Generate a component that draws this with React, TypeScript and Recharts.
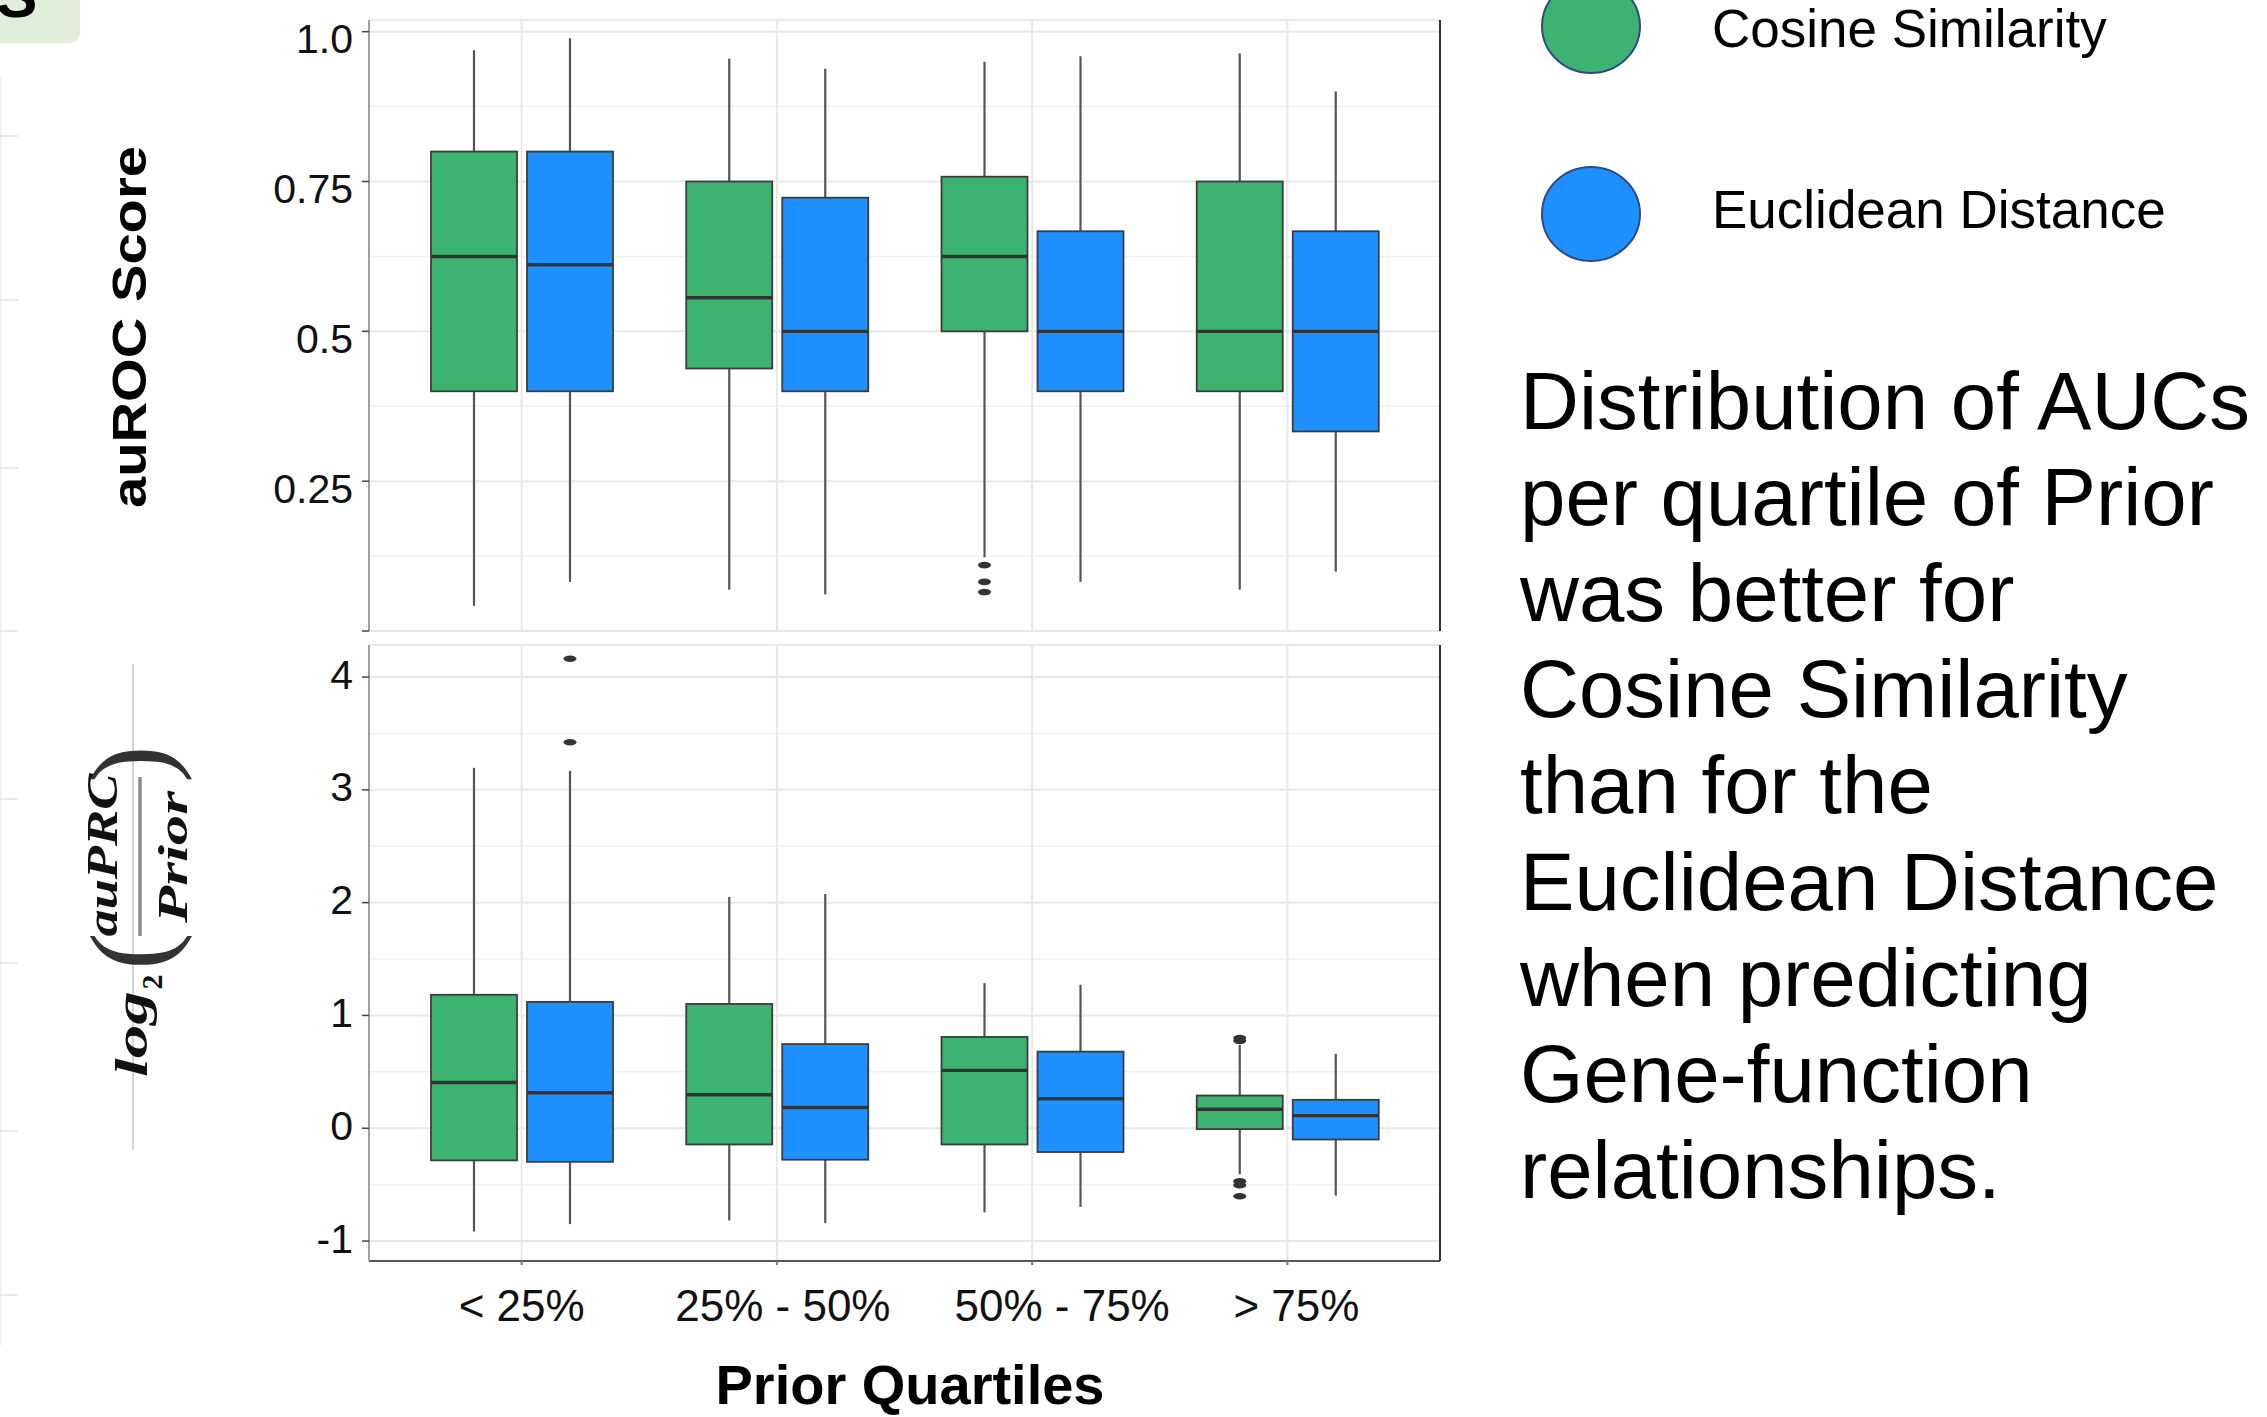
import React from 'react';
import { ComposedChart, Bar, XAxis, YAxis, CartesianGrid } from 'recharts';

const SANS = '"Liberation Sans", Arial, Helvetica, sans-serif';
const SERIF = '"Liberation Serif", "DejaVu Serif", serif';
const GREEN = '#3CB371';
const BLUE = '#1E90FF';

const categories = ['< 25%', '25% - 50%', '50% - 75%', '> 75%'];

// Top panel: auROC Score
const rocTicks = [0, 0.25, 0.5, 0.75, 1.0];
const rocTickLabels = ['', '0.25', '0.5', '0.75', '1.0'];
const rocMinor = [0.125, 0.375, 0.625, 0.875];
const rocDomain = [0, 1.0195];

const rocCosLow = [0.042, 0.069, 0.123, 0.069];
const rocCosQ1 = [0.4, 0.438, 0.5, 0.4];
const rocCosMed = [0.625, 0.556, 0.625, 0.5];
const rocCosQ3 = [0.8, 0.75, 0.758, 0.75];
const rocCosHigh = [0.969, 0.955, 0.95, 0.964];
const rocCosOut = [[], [], [0.11, 0.082, 0.065], []];

const rocEucLow = [0.082, 0.061, 0.082, 0.099];
const rocEucQ1 = [0.4, 0.4, 0.4, 0.333];
const rocEucMed = [0.611, 0.5, 0.5, 0.5];
const rocEucQ3 = [0.8, 0.723, 0.667, 0.667];
const rocEucHigh = [0.989, 0.938, 0.959, 0.9];
const rocEucOut = [[], [], [], []];

// Bottom panel: log2(auPRC / Prior)
const prcTicks = [-1, 0, 1, 2, 3, 4];
const prcTickLabels = ['-1', '0', '1', '2', '3', '4'];
const prcMinor = [-0.5, 0.5, 1.5, 2.5, 3.5];
const prcDomain = [-1.177, 4.284];

const prcCosLow = [-0.915, -0.818, -0.746, -0.408];
const prcCosQ1 = [-0.285, -0.144, -0.144, -0.008];
const prcCosMed = [0.405, 0.297, 0.513, 0.168];
const prcCosQ3 = [1.183, 1.102, 0.809, 0.29];
const prcCosHigh = [3.195, 2.05, 1.286, 0.74];
const prcCosOut = [[], [], [], [0.8, 0.775, -0.47, -0.505, -0.603]];

const prcEucLow = [-0.85, -0.841, -0.697, -0.597];
const prcEucQ1 = [-0.298, -0.279, -0.211, -0.1];
const prcEucMed = [0.315, 0.184, 0.261, 0.112];
const prcEucQ3 = [1.12, 0.746, 0.679, 0.252];
const prcEucHigh = [3.168, 2.077, 1.272, 0.66];
const prcEucOut = [[4.162, 3.422], [], [], []];

const legendNames = ['Cosine Similarity', 'Euclidean Distance'];
const legendColors = [GREEN, BLUE];

const paragraphLines = [
  'Distribution of AUCs',
  'per quartile of Prior',
  'was better for',
  'Cosine Similarity',
  'than for the',
  'Euclidean Distance',
  'when predicting',
  'Gene-function',
  'relationships.',
];

const xTitle = 'Prior Quartiles';
const topYTitle = 'auROC Score';

// layout: small horizontal nudges of the category labels seen in the figure (px)
const xTickLabelNudge = [0, 6, 30, 9];

type Stats = { low: number; q1: number; med: number; q3: number; high: number; out: number[] };

function stats(lo: number[], q1: number[], med: number[], q3: number[], hi: number[], out: number[][], i: number): Stats {
  return { low: lo[i], q1: q1[i], med: med[i], q3: q3[i], high: hi[i], out: out[i] };
}

const rocRows = categories.map((cat, i) => ({
  cat,
  cosBox: [rocCosQ1[i], rocCosQ3[i]],
  eucBox: [rocEucQ1[i], rocEucQ3[i]],
  cos: stats(rocCosLow, rocCosQ1, rocCosMed, rocCosQ3, rocCosHigh, rocCosOut, i),
  euc: stats(rocEucLow, rocEucQ1, rocEucMed, rocEucQ3, rocEucHigh, rocEucOut, i),
}));

const prcRows = categories.map((cat, i) => ({
  cat,
  cosBox: [prcCosQ1[i], prcCosQ3[i]],
  eucBox: [prcEucQ1[i], prcEucQ3[i]],
  cos: stats(prcCosLow, prcCosQ1, prcCosMed, prcCosQ3, prcCosHigh, prcCosOut, i),
  euc: stats(prcEucLow, prcEucQ1, prcEucMed, prcEucQ3, prcEucHigh, prcEucOut, i),
}));

const boxShape = (key: 'cos' | 'euc', fill: string) => (props: any) => {
  const { x, y, width, height, payload } = props;
  const s: Stats = payload[key];
  const k = height / (s.q3 - s.q1);
  const py = (v: number) => y + (s.q3 - v) * k;
  const cx = x + width / 2;
  return (
    <g>
      <line x1={cx} x2={cx} y1={py(s.high)} y2={py(s.q3)} stroke="#555" strokeWidth={2.2} />
      <line x1={cx} x2={cx} y1={py(s.q1)} y2={py(s.low)} stroke="#555" strokeWidth={2.2} />
      <rect x={x} y={y} width={width} height={height} fill={fill} stroke="#3c3c3c" strokeWidth={1.8} />
      <line x1={x} x2={x + width} y1={py(s.med)} y2={py(s.med)} stroke="#333" strokeWidth={3.4} />
      {s.out.map((v, j) => (
        <ellipse key={j} cx={cx} cy={py(v)} rx={6.5} ry={3.3} fill="#333" />
      ))}
    </g>
  );
};

const makeYTick = (ticks: number[], labels: string[], shift: number) => (props: any) => {
  const { x, y, payload } = props;
  const idx = ticks.indexOf(payload.value);
  const label = idx >= 0 ? labels[idx] : '';
  return (
    <text x={x} y={y + shift} dy="0.355em" textAnchor="end" fontSize={41} fontFamily={SANS} fill="#111">
      {label}
    </text>
  );
};

const XTick = (props: any) => {
  const { x, y, payload } = props;
  const idx = categories.indexOf(payload.value);
  const nudge = idx >= 0 ? xTickLabelNudge[idx] : 0;
  return (
    <text x={x + nudge} y={y} dy="0.71em" textAnchor="middle" fontSize={44} fontFamily={SANS} fill="#111">
      {payload.value}
    </text>
  );
};

function Panel(p: {
  rows: any[];
  domain: number[];
  ticks: number[];
  labels: string[];
  minor: number[];
  top: number;
  height: number;
  marginTop: number;
  marginBottom: number;
  showX: boolean;
  tickShift: number;
}) {
  return (
    <div style={{ position: 'absolute', left: 0, top: p.top }}>
      <ComposedChart
        width={1460}
        height={p.height}
        data={p.rows}
        margin={{ top: p.marginTop, right: 0, bottom: p.marginBottom, left: 0 }}
        barGap={10}
      >
        <CartesianGrid horizontalValues={p.minor} vertical={false} stroke="#f1f1f1" strokeWidth={1.5} />
        <CartesianGrid stroke="#e8e8e8" strokeWidth={2} />
        <XAxis
          dataKey="cat"
          type="category"
          padding={{ left: 25, right: 25 }}
          hide={!p.showX}
          height={p.showX ? 60 : 0}
          tickSize={4}
          tickMargin={25}
          interval={0}
          axisLine={{ stroke: '#555', strokeWidth: 2 }}
          tickLine={{ stroke: '#777', strokeWidth: 2 }}
          tick={XTick}
        />
        <YAxis
          type="number"
          domain={p.domain}
          ticks={p.ticks}
          allowDataOverflow
          interval={0}
          width={369}
          tickSize={7}
          tickMargin={9}
          axisLine={{ stroke: '#a0a0a0', strokeWidth: 2 }}
          tickLine={{ stroke: '#444', strokeWidth: 1.5 }}
          tick={makeYTick(p.ticks, p.labels, p.tickShift)}
        />
        <YAxis
          yAxisId="r"
          orientation="right"
          type="number"
          domain={p.domain}
          allowDataOverflow
          width={20}
          tick={false}
          tickLine={false}
          axisLine={{ stroke: '#333', strokeWidth: 2 }}
        />
        <Bar dataKey="cosBox" barSize={86} shape={boxShape('cos', GREEN)} isAnimationActive={false} />
        <Bar dataKey="eucBox" barSize={86} shape={boxShape('euc', BLUE)} isAnimationActive={false} />
      </ComposedChart>
    </div>
  );
}

const edgeTicks = [136, 300, 468, 631, 799, 963, 1131, 1295];

function Overlay() {
  return (
    <svg
      width={2267}
      height={1417}
      style={{ position: 'absolute', left: 0, top: 0, pointerEvents: 'none' }}
    >
      {/* panel badge */}
      <path d="M0 0 H80 V31 Q80 43 68 43 H0 Z" fill="#e1eedb" />
      <text x={-4} y={17} fontSize={62} fontWeight={700} fontFamily={SANS} fill="#000">S</text>
      {/* faint left-edge remnants */}
      <line x1={1} x2={1} y1={77} y2={1345} stroke="#ececec" strokeWidth={1.5} />
      {edgeTicks.map((t) => (
        <line key={t} x1={0} x2={18} y1={t} y2={t} stroke="#e2e2e2" strokeWidth={1.5} />
      ))}

      {/* top y title */}
      <text
        x={146}
        y={327}
        transform="rotate(-90 146 327)"
        textAnchor="middle"
        fontSize={48}
        fontWeight={700}
        fontFamily={SANS}
        textLength={362}
        lengthAdjust="spacingAndGlyphs"
        fill="#000"
      >
        {topYTitle}
      </text>

      {/* bottom y title: log2(auPRC / Prior) */}
      <line x1={133} x2={133} y1={664} y2={1150} stroke="#c4c4c4" strokeWidth={1.5} />
      <line x1={140} x2={140} y1={777} y2={936} stroke="#8a8a8a" strokeWidth={3.5} />
      <text x={147} y={1034} transform="rotate(-90 147 1034)" textAnchor="middle" fontSize={46}
        fontWeight={700} fontStyle="italic" fontFamily={SERIF} textLength={86} lengthAdjust="spacingAndGlyphs" fill="#111">
        log
      </text>
      <text x={162} y={982} transform="rotate(-90 162 982)" textAnchor="middle" fontSize={30}
        fontWeight={700} fontFamily={SERIF} fill="#111">
        2
      </text>
      <text x={168} y={951} transform="rotate(-90 168 951)" textAnchor="middle" fontSize={112}
        fontWeight={300} fontFamily={SERIF} fill="#333">
        (
      </text>
      <text x={117} y={855} transform="rotate(-90 117 855)" textAnchor="middle" fontSize={44}
        fontWeight={700} fontStyle="italic" fontFamily={SERIF} textLength={163} lengthAdjust="spacingAndGlyphs" fill="#111">
        auPRC
      </text>
      <text x={187} y={857} transform="rotate(-90 187 857)" textAnchor="middle" fontSize={42}
        fontWeight={700} fontStyle="italic" fontFamily={SERIF} textLength={132} lengthAdjust="spacingAndGlyphs" fill="#111">
        Prior
      </text>
      <text x={168} y={764} transform="rotate(-90 168 764)" textAnchor="middle" fontSize={112}
        fontWeight={300} fontFamily={SERIF} fill="#333">
        )
      </text>

      {/* x title */}
      <text x={910} y={1404} textAnchor="middle" fontSize={56} fontWeight={700} fontFamily={SANS} fill="#000">
        {xTitle}
      </text>

      {/* legend */}
      {legendNames.map((name, i) => (
        <g key={name}>
          <ellipse cx={1591} cy={26 + i * 188} rx={49} ry={47} fill={legendColors[i]} stroke="#2d4a8c" strokeWidth={2} />
          <text x={1712} y={47 + i * 181} fontSize={53} fontFamily={SANS} fill="#000">
            {name}
          </text>
        </g>
      ))}

      {/* annotation paragraph */}
      {paragraphLines.map((line, i) => (
        <text key={i} x={1520} y={429 + i * 96.1} fontSize={81.6} fontFamily={SANS} fill="#000">
          {line}
        </text>
      ))}
    </svg>
  );
}

export default function App() {
  return (
    <div style={{ position: 'absolute', left: 0, top: 0, width: 2267, height: 1417, background: '#fff', overflow: 'hidden' }}>
      <Panel
        rows={rocRows}
        domain={rocDomain}
        ticks={rocTicks}
        labels={rocTickLabels}
        minor={rocMinor}
        top={0}
        height={640}
        marginTop={20}
        marginBottom={9}
        showX={false}
        tickShift={7}
      />
      <Panel
        rows={prcRows}
        domain={prcDomain}
        ticks={prcTicks}
        labels={prcTickLabels}
        minor={prcMinor}
        top={640}
        height={777}
        marginTop={5}
        marginBottom={96}
        showX={true}
        tickShift={-3}
      />
      <Overlay />
    </div>
  );
}
